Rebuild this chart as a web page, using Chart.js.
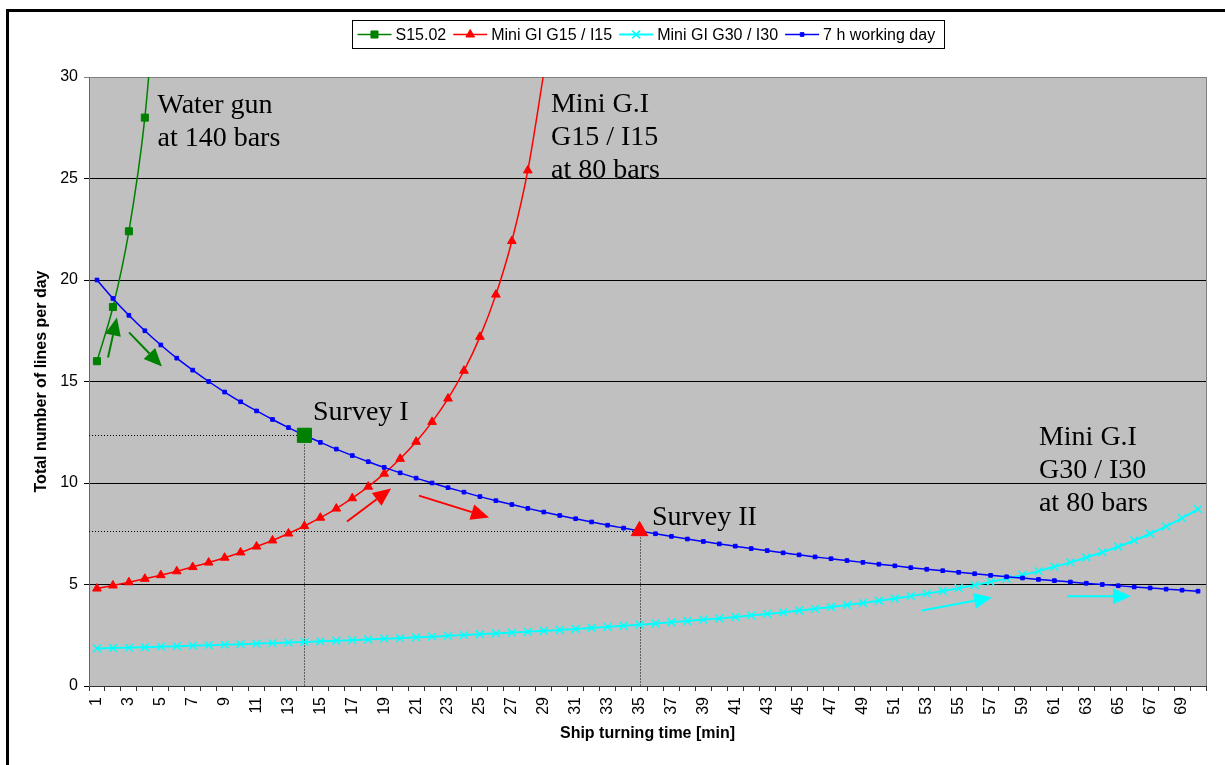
<!DOCTYPE html>
<html>
<head>
<meta charset="utf-8">
<title>Lines per day vs. ship turning time</title>
<script src="https://cdn.jsdelivr.net/npm/chart.js@4.4.1/dist/chart.umd.min.js"></script>
<style>
  html, body { margin: 0; padding: 0; background: #fff; }
  canvas { display: block; }
</style>
</head>
<body>
<canvas id="chart" width="1225" height="765"></canvas>
<script>
// Ship turning time categories [min]
const turningTimes = ['1','2','3','4','5','6','7','8','9','10','11','12','13','14','15','16','17','18','19','20',
  '21','22','23','24','25','26','27','28','29','30','31','32','33','34','35','36','37','38','39','40',
  '41','42','43','44','45','46','47','48','49','50','51','52','53','54','55','56','57','58','59','60',
  '61','62','63','64','65','66','67','68','69','70'];

// Total number of lines per day, per source
const s1502 = [16.00, 18.67, 22.40, 28.00, 37.33];
const miniG15 = [4.80, 4.95, 5.11, 5.28, 5.46, 5.65, 5.86, 6.08, 6.32, 6.58, 6.87, 7.17, 7.51, 7.88, 8.29,
  8.74, 9.25, 9.82, 10.46, 11.19, 12.03, 13.01, 14.16, 15.53, 17.20, 19.28, 21.92, 25.40, 30.19];
const miniG30 = [1.85, 1.87, 1.89, 1.91, 1.94, 1.96, 1.99, 2.01, 2.04, 2.06, 2.09, 2.11, 2.14, 2.17, 2.20,
  2.23, 2.26, 2.29, 2.33, 2.36, 2.40, 2.43, 2.47, 2.51, 2.55, 2.59, 2.63, 2.67, 2.72, 2.76,
  2.81, 2.86, 2.91, 2.97, 3.02, 3.08, 3.14, 3.20, 3.27, 3.33, 3.40, 3.48, 3.55, 3.63, 3.72,
  3.80, 3.89, 3.99, 4.09, 4.20, 4.31, 4.43, 4.55, 4.68, 4.82, 4.97, 5.13, 5.29, 5.47, 5.66,
  5.87, 6.09, 6.33, 6.59, 6.86, 7.17, 7.50, 7.86, 8.27, 8.71];
const workingDay7h = [20.00, 19.09, 18.26, 17.50, 16.80, 16.15, 15.56, 15.00, 14.48, 14.00,
  13.55, 13.13, 12.73, 12.35, 12.00, 11.67, 11.35, 11.05, 10.77, 10.50,
  10.24, 10.00, 9.77, 9.55, 9.33, 9.13, 8.94, 8.75, 8.57, 8.40,
  8.24, 8.08, 7.92, 7.78, 7.64, 7.50, 7.37, 7.24, 7.12, 7.00,
  6.89, 6.77, 6.67, 6.56, 6.46, 6.36, 6.27, 6.18, 6.09, 6.00,
  5.92, 5.83, 5.75, 5.68, 5.60, 5.53, 5.45, 5.38, 5.32, 5.25,
  5.19, 5.12, 5.06, 5.00, 4.94, 4.88, 4.83, 4.77, 4.72, 4.67];

// Survey operating points (turning time, lines per day)
const surveyI = [{ x: '14', y: 12.35 }];
const surveyII = [{ x: '35', y: 7.64 }];

// Value axis tick values
const yTickValues = [0, 5, 10, 15, 20, 25, 30];

// Callout texts, anchored at (turning time, lines per day)
const callouts = [
  { t: 4.79, v: 28.23, lines: ['Water gun', 'at 140 bars'] },
  { t: 29.45, v: 28.30, lines: ['Mini G.I', 'G15 / I15', 'at 80 bars'] },
  { t: 14.54, v: 13.08, lines: ['Survey I'] },
  { t: 35.78, v: 7.91, lines: ['Survey II'] },
  { t: 60.03, v: 11.85, lines: ['Mini G.I', 'G30 / I30', 'at 80 bars'] }
];

// Direction arrows: from (t0, v0) to (t1, v1)
const arrows = [
  { color: '#008000', t0: 1.69, v0: 16.18, t1: 2.25, v1: 18.15 },
  { color: '#008000', t0: 3.01, v0: 17.42, t1: 5.07, v1: 15.74 },
  { color: '#FF0000', t0: 16.67, v0: 8.10, t1: 19.43, v1: 9.73 },
  { color: '#FF0000', t0: 21.18, v0: 9.38, t1: 25.57, v1: 8.30 },
  { color: '#00FFFF', t0: 52.70, v0: 3.72, t1: 57.09, v1: 4.36 },
  { color: '#00FFFF', t0: 61.79, v0: 4.42, t1: 65.80, v1: 4.42 }
];

const SANS = '"Liberation Sans", Arial, Helvetica, sans-serif';
const SERIF = '"Liberation Serif", "Times New Roman", Times, serif';

Chart.defaults.font.family = SANS;
Chart.defaults.font.size = 16;
Chart.defaults.color = '#000';

function series(label, data, color, style, radius, order, extra) {
  return Object.assign({
    label, data, order,
    borderColor: color, backgroundColor: color,
    borderWidth: 1.5,
    pointStyle: style, pointRadius: radius,
    pointBackgroundColor: color, pointBorderColor: color, pointBorderWidth: 1,
    cubicInterpolationMode: 'monotone',
    fill: false,
    inKey: true
  }, extra || {});
}

// Plot area background and right-hand frame
const plotFrame = {
  id: 'plotFrame',
  beforeDraw(chart) {
    const { ctx, chartArea: a } = chart;
    ctx.save();
    ctx.fillStyle = '#C0C0C0';
    ctx.fillRect(a.left, a.top, a.right - a.left, a.bottom - a.top);
    ctx.restore();
  },
  beforeDatasetsDraw(chart) {
    const { ctx, chartArea: a, scales } = chart;
    const x = scales.x, y = scales.y;
    ctx.save();
    ctx.strokeStyle = '#808080';
    ctx.lineWidth = 1;
    ctx.beginPath();
    ctx.moveTo(Math.round(a.right) + 0.5, a.top);
    ctx.lineTo(Math.round(a.right) + 0.5, a.bottom);
    ctx.stroke();
    // dotted guides for the survey points
    ctx.strokeStyle = '#000';
    ctx.setLineDash([1, 2]);
    [surveyI[0], surveyII[0]].forEach(p => {
      const px = Math.round(x.getPixelForValue(turningTimes.indexOf(p.x))) + 0.5;
      const py = Math.round(y.getPixelForValue(p.y)) + 0.5;
      ctx.beginPath();
      ctx.moveTo(a.left, py); ctx.lineTo(px, py);
      ctx.moveTo(px, py); ctx.lineTo(px, y.getPixelForValue(0));
      ctx.stroke();
    });
    ctx.restore();
  }
};

// Callout texts and arrows
const callouts_plugin = {
  id: 'callouts',
  afterDatasetsDraw(chart) {
    const { ctx, scales } = chart;
    const x = scales.x, y = scales.y;
    const px = t => x.getPixelForValue(t - 1);
    ctx.save();
    arrows.forEach(a => {
      const x0 = px(a.t0), y0 = y.getPixelForValue(a.v0);
      const x1 = px(a.t1), y1 = y.getPixelForValue(a.v1);
      const ang = Math.atan2(y1 - y0, x1 - x0);
      const L = 18, W = 8;
      const bx = x1 - L * Math.cos(ang), by = y1 - L * Math.sin(ang);
      ctx.strokeStyle = a.color; ctx.fillStyle = a.color; ctx.lineWidth = 2;
      ctx.beginPath(); ctx.moveTo(x0, y0); ctx.lineTo(bx, by); ctx.stroke();
      ctx.beginPath();
      ctx.moveTo(x1, y1);
      ctx.lineTo(bx + W * Math.sin(ang), by - W * Math.cos(ang));
      ctx.lineTo(bx - W * Math.sin(ang), by + W * Math.cos(ang));
      ctx.closePath(); ctx.fill();
    });
    ctx.font = '28px ' + SERIF;
    ctx.fillStyle = '#000';
    ctx.textAlign = 'left';
    ctx.textBaseline = 'alphabetic';
    callouts.forEach(c => {
      const cx = px(c.t), cy = y.getPixelForValue(c.v);
      c.lines.forEach((line, i) => ctx.fillText(line, cx, cy + i * 33));
    });
    ctx.restore();
  }
};

// Boxed series key above the plot, plus the outer frame
const seriesKey = {
  id: 'seriesKey',
  afterDraw(chart) {
    const { ctx, chartArea: area } = chart;
    const items = chart.data.datasets.filter(d => d.inKey);
    ctx.save();
    ctx.strokeStyle = '#000';
    ctx.lineWidth = 3;
    ctx.strokeRect(7.5, 10.5, 1400, 1400);

    ctx.font = '16px ' + SANS;
    const lineLen = 34, gap = 4, itemGap = 7, padL = 5, padR = 9;
    const widths = items.map(d => ctx.measureText(d.label).width);
    const total = padL + padR + items.length * (lineLen + gap) +
      widths.reduce((s, w) => s + w, 0) + itemGap * (items.length - 1);
    const cxMid = (area.left + area.right) / 2;
    let xPos = Math.round(cxMid - total / 2) + 0.5;
    const top = 20.5, h = 28, cy = 34.5;
    ctx.lineWidth = 1;
    ctx.strokeRect(xPos, top, Math.round(total), h);
    xPos += padL;
    items.forEach((d, i) => {
      ctx.strokeStyle = d.borderColor;
      ctx.lineWidth = d.borderWidth;
      ctx.beginPath(); ctx.moveTo(xPos, cy); ctx.lineTo(xPos + lineLen, cy); ctx.stroke();
      ctx.fillStyle = d.pointBackgroundColor;
      ctx.strokeStyle = d.pointBorderColor;
      ctx.lineWidth = d.pointBorderWidth;
      Chart.helpers.drawPoint(ctx, {
        pointStyle: d.pointStyle, radius: d.pointRadius,
        borderWidth: d.pointBorderWidth, rotation: 0
      }, xPos + lineLen / 2, cy);
      xPos += lineLen + gap;
      ctx.fillStyle = '#000';
      ctx.textAlign = 'left';
      ctx.textBaseline = 'middle';
      ctx.fillText(d.label, xPos, cy + 1);
      xPos += widths[i] + itemGap;
    });
    ctx.restore();
  }
};

new Chart(document.getElementById('chart'), {
  type: 'line',
  data: {
    labels: turningTimes,
    datasets: [
      series('S15.02', s1502, '#008000', 'rect', 5, 4),
      series('Mini GI G15 / I15', miniG15, '#FF0000', 'triangle', 5, 3),
      series('Mini GI G30 / I30', miniG30, '#00FFFF', 'crossRot', 5.5, 2, { borderWidth: 2, pointBorderWidth: 1.5 }),
      series('7 h working day', workingDay7h, '#0000FF', 'rect', 2.6, 1),
      series('Survey I', surveyI, '#008000', 'rect', 10, 0, { showLine: false, inKey: false }),
      series('Survey II', surveyII, '#FF0000', 'triangle', 9.5, 0, { showLine: false, inKey: false })
    ]
  },
  options: {
    responsive: false,
    animation: false,
    devicePixelRatio: 1,
    events: [],
    layout: { padding: { top: 77, left: 28, right: 19, bottom: 18 } },
    plugins: {
      legend: { display: false },
      tooltip: { enabled: false },
      title: { display: false }
    },
    scales: {
      x: {
        type: 'category',
        offset: true,
        grid: { display: true, offset: true, drawOnChartArea: false, drawTicks: true, tickLength: 5, color: '#333' },
        border: { display: true, color: '#333', width: 1 },
        ticks: {
          autoSkip: false, maxRotation: 90, minRotation: 90, padding: 6,
          font: { size: 16 }, color: '#000',
          callback(val, i) {
            const t = turningTimes[i];
            return Number(t) % 2 === 1 ? t : '';
          }
        },
        title: { display: true, text: 'Ship turning time [min]', font: { size: 16, weight: 'bold' }, color: '#000', padding: { top: 4, bottom: 4 } },
        afterFit(scale) { scale.height = 61; }
      },
      y: {
        min: 0, max: 30,
        afterBuildTicks(scale) { scale.ticks = yTickValues.map(v => ({ value: v })); },
        grid: {
          color: c => (c.tick && c.tick.value === 30) ? '#808080' : '#000',
          tickLength: 5, lineWidth: 1
        },
        border: { display: true, color: '#666', width: 1 },
        ticks: { padding: 6, font: { size: 16 }, color: '#000' },
        title: { display: true, text: 'Total number of lines per day', font: { size: 16, weight: 'bold' }, color: '#000', padding: { top: 4, bottom: 4 } },
        afterFit(scale) { scale.width = 61; }
      }
    }
  },
  plugins: [plotFrame, callouts_plugin, seriesKey]
});
</script>
</body>
</html>
